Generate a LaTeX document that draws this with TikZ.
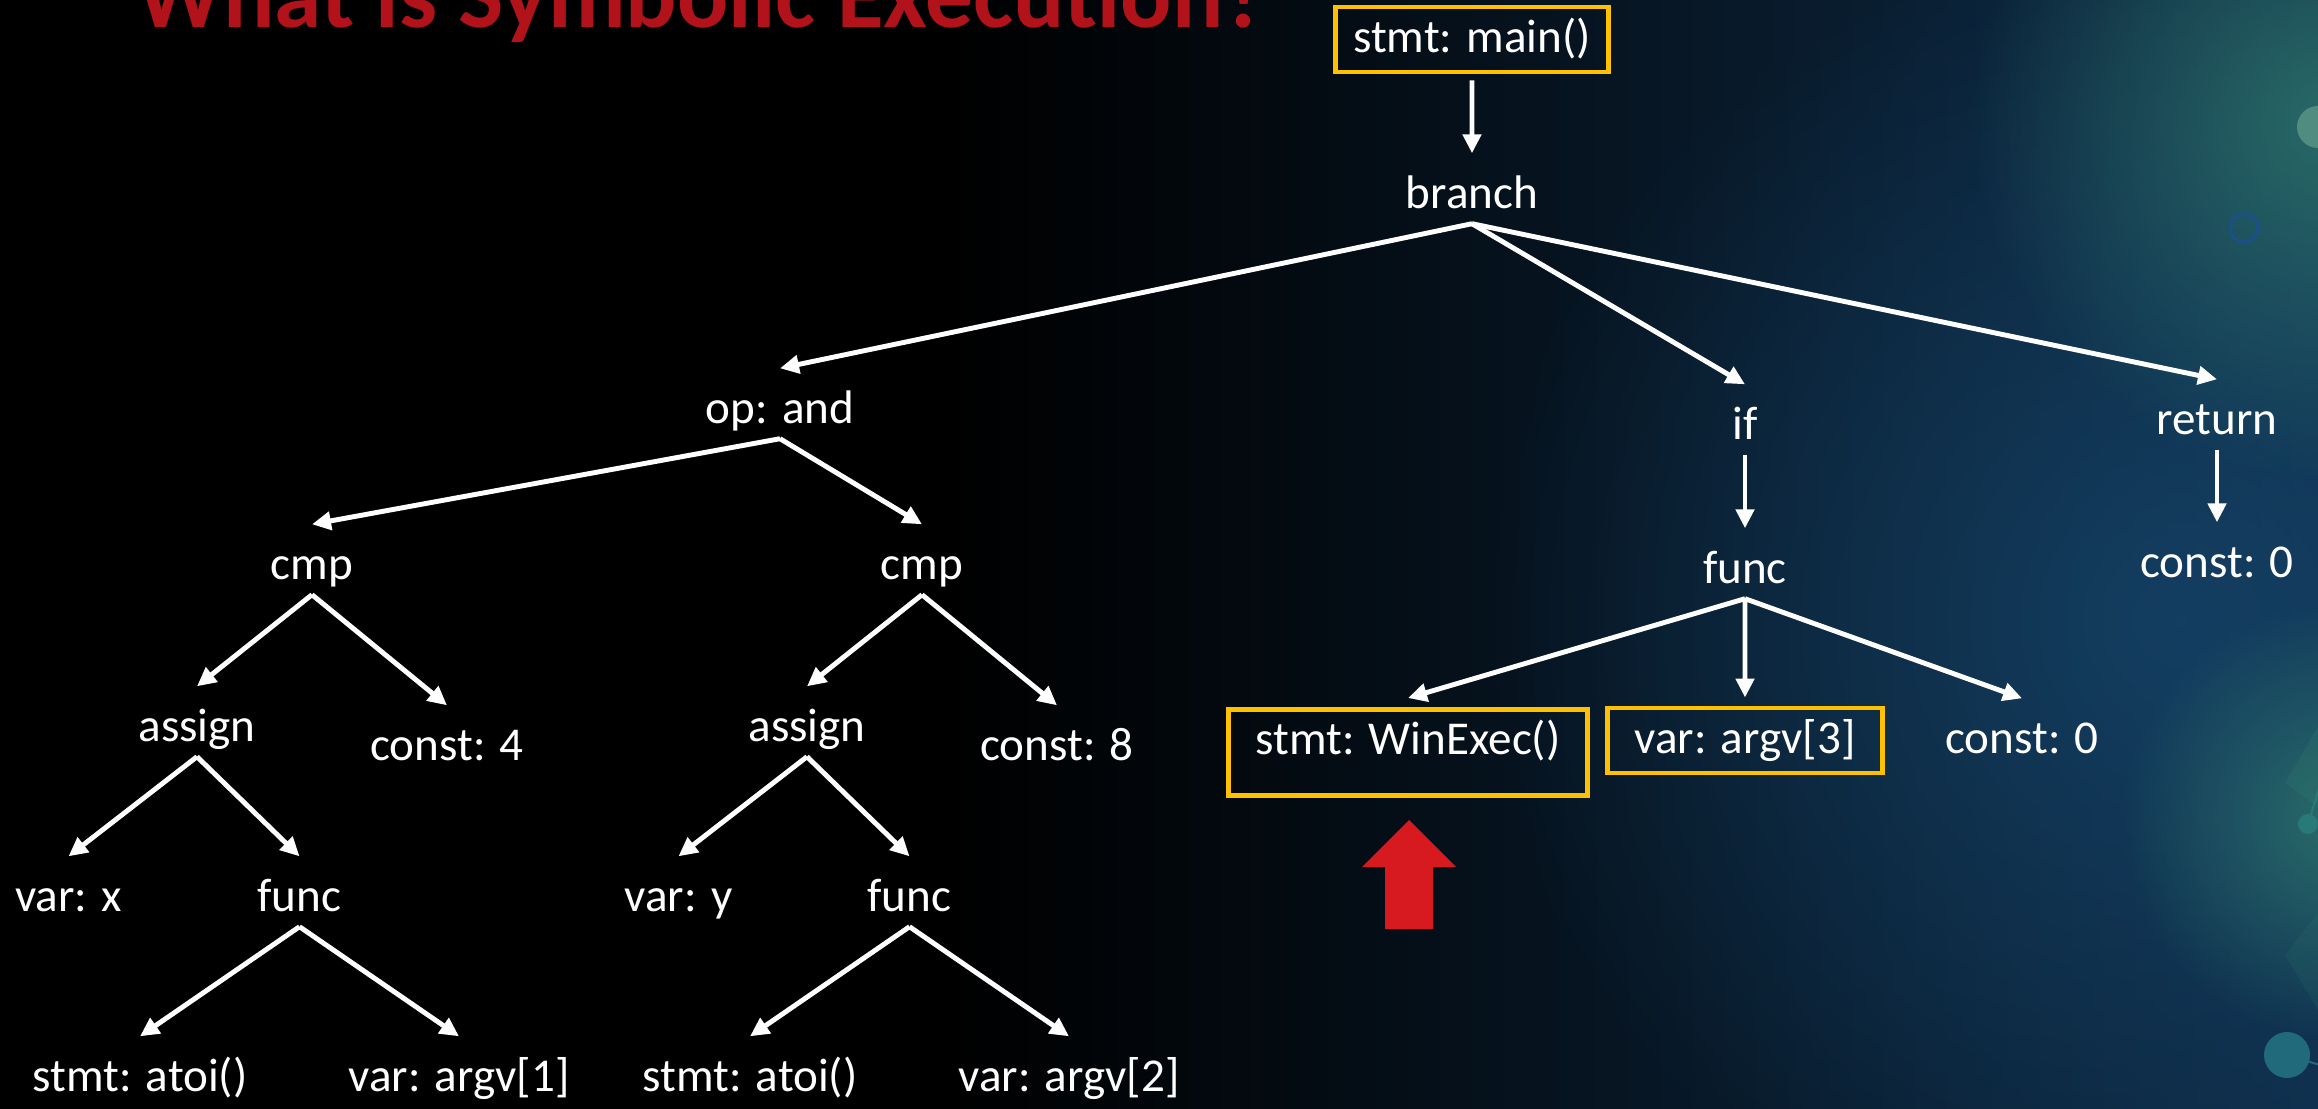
\documentclass[tikz,border=0pt]{standalone}
\usepackage{fontspec}
\setmainfont{Carlito}
\usetikzlibrary{arrows.meta,fadings}

\definecolor{boxgold}{RGB}{255,192,0}
\definecolor{titlered}{RGB}{178,18,26}
\definecolor{pointred}{RGB}{215,25,32}
\definecolor{bgdeep}{RGB}{14,44,72}
\definecolor{bgnavy}{RGB}{22,70,108}
\definecolor{glowteal}{RGB}{50,125,112}
\definecolor{disclight}{RGB}{80,140,128}
\definecolor{ringblue}{RGB}{28,80,140}
\definecolor{discteal}{RGB}{32,106,124}
\definecolor{dotteal}{RGB}{40,122,120}

\tikzfading[name=glowfade, inner color=transparent!25, outer color=transparent!100]

\begin{document}
\begin{tikzpicture}[
  every node/.style={text=white, font=\fontsize{13.4}{16}\selectfont, inner sep=0pt,
    text height=0.34cm, text depth=0.09cm},
  stmtbox/.style={draw=boxgold, line width=1.4pt, inner xsep=0.27cm, inner ysep=0.11cm},
  tipgap/.store in=\tipgap, tipgap=0.2cm,
  tailgap/.store in=\tailgap, tailgap=0.13cm,
  edge from parent/.style={draw=white, line width=1.4pt, -{Triangle[length=0.19cm,width=0.18cm]}},
  edge from parent path={([yshift=-\tailgap]\tikzparentnode.south) -- ([yshift=\tipgap]\tikzchildnode.north)},
  level 1/.style={level distance=1.56cm},
  level 2/.style={level distance=2.2cm, sibling distance=4.72cm},
  level 3/.style={level distance=1.56cm, sibling distance=6.1cm},
  level 4/.style={level distance=1.7cm, sibling distance=2.5cm},
  level 5/.style={level distance=1.7cm, sibling distance=2.31cm},
  level 6/.style={level distance=1.8cm, sibling distance=3.19cm}]

  % slide background
  \useasboundingbox (0,0) rectangle (23.18,-11.08);
  \clip (0,0) rectangle (23.18,-11.08);
  \fill[black] (-0.2,0.2) rectangle (23.4,-11.3);
  \shade[left color=black, right color=bgdeep] (9.5,0.2) rectangle (23.4,-11.3);
  \fill[bgnavy, path fading=glowfade] (21.8,-6.2) circle (7);
  \fill[glowteal, path fading=glowfade] (23.3,-1.2) circle (3.6);
  \fill[glowteal, path fading=glowfade] (23.4,-8.2) circle (2.2);

  \fill[glowteal, opacity=0.25] (22.85,-7.83) -- (23.18,-7.27) -- (23.18,-8.07) -- cycle;
  \fill[glowteal, opacity=0.15] (22.85,-9.55) -- (23.18,-9.13) -- (23.18,-10.10) -- cycle;
  \fill[disclight] (23.18,-1.27) circle (0.21);
  \draw[ringblue, line width=0.03cm] (22.44,-2.28) circle (0.14);
  \draw[dotteal, line width=0.02cm] (23.08,-8.24) -- (23.2,-7.85);
  \fill[dotteal] (23.08,-8.24) circle (0.1);
  \draw[discteal, line width=0.02cm] (22.87,-10.55) -- (23.2,-10.65);
  \fill[discteal] (22.87,-10.55) circle (0.23);

  \node[anchor=base west, text=titlered, font=\fontsize{27.2}{31}\bfseries\selectfont]
    (title) at (1.36,-0.27) {What is Symbolic Execution?};

  \node[stmtbox, inner xsep=0.18cm] (main) at (14.72,-0.395) {stmt: main()}
    child[tailgap=0.06cm] {node (branch) {branch}
      child[xshift=-2.2cm, yshift=0.05cm] {node (opand) {op: and}
        child[xshift=-1.63cm] {node (cmpl) {cmp}
          child[xshift=0.1cm, yshift=0.08cm] {node (assignl) {assign}
            child[xshift=-0.13cm] {node (varx) {var: x}}
            child[xshift=-0.13cm] {node (funcl) {func}
              child {node (atoil) {stmt: atoi()}}
              child {node (argvone) {var: argv[1]}}
            }
          }
          child[xshift=0.1cm, yshift=-0.11cm] {node (constfour) {const: 4}}
        }
        child[xshift=-1.63cm] {node (cmpr) {cmp}
          child[xshift=0.1cm, yshift=0.08cm] {node (assignr) {assign}
            child[xshift=-0.13cm] {node (vary) {var: y}}
            child[xshift=-0.13cm] {node (funcm) {func}
              child {node (atoir) {stmt: atoi()}}
              child {node (argvtwo) {var: argv[2]}}
            }
          }
          child[xshift=0.1cm, yshift=-0.11cm] {node (consteight) {const: 8}}
        }
      }
      child[xshift=2.73cm, yshift=-0.11cm] {node (ifstmt) {if}
        child[yshift=0.12cm] {node (funcr) {func}
          child[xshift=-0.87cm, yshift=-0.12cm, tipgap=0.09cm] {node[stmtbox, text depth=0.3cm] (winexec) {stmt: WinExec()}}
          child[tipgap=0.08cm] {node[stmtbox] (argvthree) {var: argv[3]}}
          child[xshift=0.27cm] {node (constzero) {const: 0}}
        }
      }
      child[xshift=2.73cm, yshift=-0.06cm] {node (retstmt) {return}
        child[yshift=0.13cm] {node (retconst) {const: 0}}
      }
    };

  % pointer under the WinExec call
  \fill[pointred] (14.09,-8.20) -- (14.56,-8.67) -- (14.33,-8.67) -- (14.33,-9.29)
    -- (13.85,-9.29) -- (13.85,-8.67) -- (13.62,-8.67) -- cycle;
\end{tikzpicture}
\end{document}
